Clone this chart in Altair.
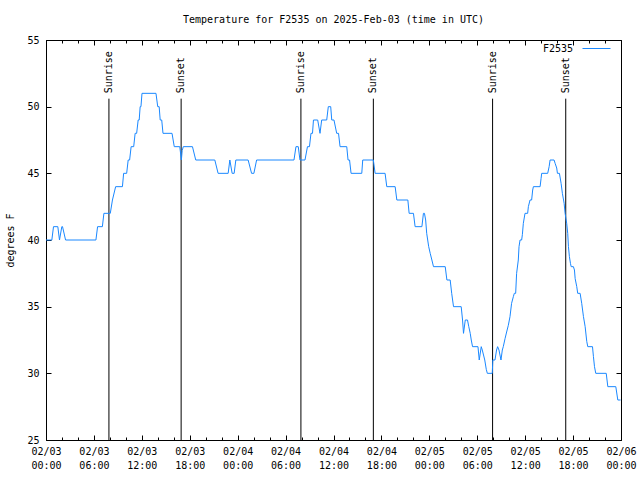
import altair as alt
import pandas as pd

FONT = "DejaVu Sans Mono"
BLUE = "#1a88ff"

# hours since 2025-02-03 00:00 UTC
hours = [0.0, 0.73, 0.94, 1.48, 1.69, 1.98, 2.07, 2.45, 6.25, 6.46, 7.06, 7.25, 8.05, 8.32, 8.72,
         9.57, 9.72, 10.10, 10.29, 10.47, 10.66, 10.98, 11.16, 11.35, 11.54, 11.67, 11.79, 11.89,
         12.02, 13.77, 13.99, 14.17, 14.30, 14.49, 14.65, 15.78, 16.06, 16.75, 16.95, 17.05, 17.19,
         18.34, 18.75, 21.14, 21.55, 22.81, 23.02, 23.31, 23.56, 23.77, 25.31, 25.74, 26.03, 26.37,
         31.05, 31.30, 31.59, 31.80, 32.43, 32.74, 32.99, 33.18, 33.37, 33.49, 34.02, 34.31, 34.52,
         35.15, 35.35, 35.65, 35.78, 36.06, 36.40, 36.63, 36.82, 37.66, 37.82, 38.01, 38.20, 39.54,
         39.66, 40.99, 41.21, 42.46, 42.67, 43.72, 43.93, 45.31, 45.47, 46.01, 46.22, 47.07, 47.26,
         47.39, 47.54, 47.67, 47.92, 48.11, 48.32, 48.52, 49.99, 50.20, 50.61, 50.80, 51.03, 51.99,
         52.16, 52.28, 52.50, 52.78, 52.94, 53.12, 53.25, 53.41, 54.09, 54.25, 54.50, 54.63, 54.94,
         55.13, 55.26, 55.88, 55.95, 56.22, 56.42, 56.55, 56.72, 56.97, 57.14, 57.26, 57.48, 57.68,
         57.89, 58.10, 58.30, 58.52, 58.64, 58.81, 58.93, 59.14, 59.23, 59.36, 59.56, 59.65, 59.77,
         59.98, 60.31, 60.40, 60.61, 60.81, 60.94, 61.03, 61.87, 61.99, 62.07, 62.82, 63.00, 63.12,
         63.62, 63.75, 63.95, 64.04, 64.29, 64.50, 64.66, 64.88, 65.00, 65.20, 65.33, 65.42, 65.54,
         65.67, 65.76, 66.04, 66.17, 66.26, 66.46, 66.58, 66.88, 67.08, 67.30, 67.51, 67.71, 67.84,
         68.43, 68.55, 68.68, 68.84, 70.15, 70.35, 71.35, 71.60, 71.94]
temps = [40, 40, 41, 41, 40, 41, 41, 40, 40, 41, 41, 42, 42, 43, 44,
         44, 45, 45, 46, 46, 47, 47, 48, 48, 49, 49, 50, 50,
         51, 51, 50, 50, 49, 49, 48, 48, 47, 47, 46, 46.7, 47,
         47, 46, 46, 45, 45, 46, 45, 45, 46, 46, 45, 45, 46,
         46, 47, 47, 46, 46, 47, 47, 48, 48, 49, 49, 48, 49,
         49, 50, 50, 49, 49, 48, 48, 47, 47, 46, 46, 45, 45,
         46, 46, 45, 45, 44, 44, 43, 43, 42, 42, 41, 41, 42,
         42, 41.5, 40.5, 39.5, 39, 38.5, 38, 38, 37, 37, 36, 35, 35,
         34, 33, 34, 34, 33.5, 33, 32.5, 32, 32, 31, 32, 31.75, 31,
         30.3, 30, 30, 31, 31, 31.75, 32, 31.75, 31, 31.75, 32, 32.6, 33.1,
         33.6, 34.25, 35.25, 35.75, 36, 36, 37.5, 38.5, 39.5, 40, 40, 40.4, 41.25,
         42, 42, 42.5, 43, 43, 43.75, 44, 44, 44.6, 45, 45, 45.5, 46,
         46, 45.75, 45.4, 45, 45, 44.25, 43.5, 42.75, 42, 41.25, 40.5, 39.5, 38.75,
         38.25, 38, 38, 37.75, 37.1, 36.5, 36, 36, 35.25, 34.25, 33.5, 32.4, 32,
         32, 31.25, 30.5, 30, 30, 29, 29, 28, 28]

sun_hours = [7.88, 16.92, 31.92, 40.99, 55.92, 65.08]
sun_labels = ["Sunrise", "Sunset", "Sunrise", "Sunset", "Sunrise", "Sunset"]

major_x = list(range(0, 73, 6))
minor_x = list(range(0, 73, 2))
y_ticks = [25, 30, 35, 40, 45, 50, 55]

df = pd.DataFrame({"h": hours, "t": temps, "station": "F2535"})
sun = pd.DataFrame({"h": sun_hours, "label": sun_labels})

xs = alt.Scale(domain=[0, 72], nice=False, zero=False)
ys = alt.Scale(domain=[25, 55], nice=False, zero=False)

LABEL_EXPR = ("['02/0' + (3 + floor(datum.value / 24)), "
              "(datum.value % 24 < 10 ? '0' : '') + (datum.value % 24) + ':00']")


def tick_axis(orient, values, size):
    return alt.Axis(orient=orient, values=values, tickSize=size, offset=-size,
                    labels=False, domain=False, title=None, grid=False,
                    ticks=True, tickColor="black", tickWidth=1)


line = alt.Chart(df).mark_line(strokeWidth=1).encode(
    x=alt.X("h:Q", scale=xs, axis=alt.Axis(
        orient="bottom", values=major_x, labelExpr=LABEL_EXPR, tickSize=0, domain=False,
        grid=False, labelPadding=6, labelFlush=False, labelOverlap=False, labelBound=False,
        labelFont=FONT, labelFontSize=10, labelColor="black", labelLineHeight=14, title=None)),
    y=alt.Y("t:Q", scale=ys, axis=alt.Axis(
        orient="left", values=y_ticks, tickSize=0, domain=False, grid=False,
        labelPadding=7, labelOverlap=False, labelFont=FONT, labelFontSize=10,
        labelColor="black", title="degrees F", titleFont=FONT, titleFontSize=10,
        titleFontWeight="normal", titleColor="black", titlePadding=11)),
    color=alt.Color("station:N", scale=alt.Scale(range=[BLUE]), legend=alt.Legend(
        title="F2535", titleOrient="left", titleAnchor="middle", titleBaseline="top",
        titleFont=FONT, titleFontSize=10, titleFontWeight="normal", titleColor="black",
        titlePadding=8, orient="none", legendX=497, legendY=-6, symbolType="stroke",
        symbolSize=784, symbolStrokeWidth=1, labelExpr="''", labelOffset=0,
        labelFont=FONT, labelFontSize=10, padding=0)),
)


def ghost(xaxis, yaxis):
    return alt.Chart(df).mark_line(strokeOpacity=0).encode(
        x=alt.X("h:Q", scale=xs, axis=xaxis),
        y=alt.Y("t:Q", scale=ys, axis=yaxis),
    )


g1 = ghost(tick_axis("bottom", major_x, 5), tick_axis("left", y_ticks, 5))
g2 = ghost(tick_axis("bottom", minor_x, 3), tick_axis("right", y_ticks, 5))
g3 = ghost(tick_axis("top", major_x, 5), None)
g4 = ghost(tick_axis("top", minor_x, 3), None)

rules = alt.Chart(sun).mark_rule(color="black", strokeWidth=1).encode(
    x=alt.X("h:Q", scale=xs, axis=None),
    y=alt.YDatum(25, axis=None),
    y2=alt.Y2Datum(50.6),
)

texts = alt.Chart(sun).mark_text(angle=270, align="left", baseline="middle",
                                 font=FONT, fontSize=10, color="black").encode(
    x=alt.X("h:Q", scale=xs, axis=None),
    y=alt.YDatum(51.0, axis=None),
    text="label:N",
)

chart = alt.layer(g1, g2, g3, g4, rules, texts, line).resolve_axis(
    x="independent", y="independent"
).properties(
    width=575, height=400,
    autosize=alt.AutoSizeParams(type="none"),
    padding={"left": 46, "top": 40, "right": 19, "bottom": 40},
    background="white",
    title=alt.TitleParams("Temperature for F2535 on 2025-Feb-03 (time in UTC)", font=FONT,
                          fontSize=10, fontWeight="normal", color="black",
                          anchor="middle", offset=9),
).configure_view(stroke="black", strokeWidth=1)

chart.save("out.html", embed_options={"renderer": "svg", "actions": False})
